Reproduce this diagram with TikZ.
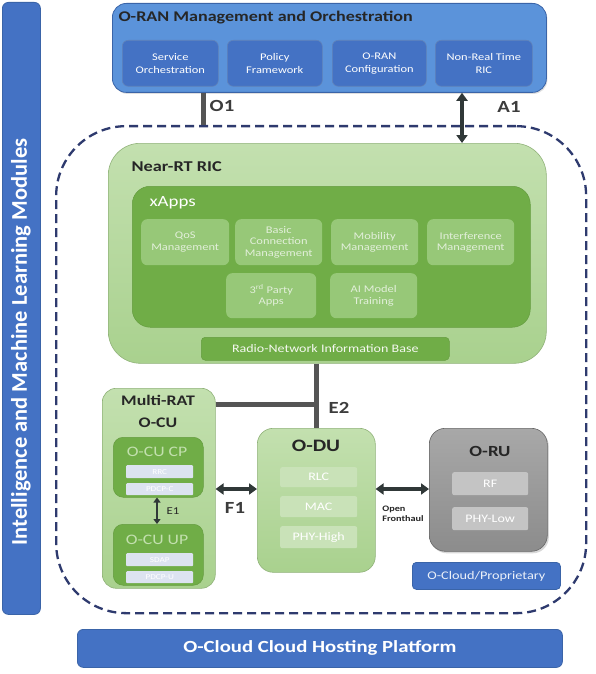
\documentclass[tikz,border=0pt]{standalone}
\usepackage{fontspec}
\setmainfont{Carlito}[FakeStretch=1.22]
\newfontfamily\vfont{Carlito}
\usetikzlibrary{arrows.meta,calc,shadows}
\definecolor{bluedark}{HTML}{4472C4}
\definecolor{bluemid}{HTML}{5B93DA}
\definecolor{blueedge}{HTML}{3A64A8}
\definecolor{greenlight}{HTML}{A9D18E}
\definecolor{greentop}{HTML}{C3E0AF}
\definecolor{greendark}{HTML}{70AD47}
\definecolor{greenapp}{HTML}{97C878}
\definecolor{greenbar}{HTML}{C9E2B8}
\definecolor{navy}{HTML}{2E3A6E}
\definecolor{linegray}{HTML}{555555}
\definecolor{arrowdark}{HTML}{303838}
\definecolor{grayru}{HTML}{8C8C8C}
\definecolor{grayrutop}{HTML}{A8A8A8}
\definecolor{graybar}{HTML}{C4C4C4}
\definecolor{cpbar}{HTML}{DCE3F0}
\definecolor{titledark}{HTML}{262626}
\begin{document}
\begin{tikzpicture}[x=1pt,y=-1pt,
  box/.style={draw,rounded corners=#1,inner sep=0pt,anchor=north west},
  box/.default=8pt,
  bluebox/.style={box=6pt,fill=bluedark,draw=blueedge,line width=0.8pt},
  mobox/.style={box=6pt,fill=bluedark,draw=blueedge!80,line width=0.6pt},
  motext/.style={text=white,align=center,font=\fontsize{10.2}{13}\selectfont},
  lgbox/.style={box=#1,top color=greentop,bottom color=greenlight,draw=greenlight!85!black,line width=0.6pt},
  dgbox/.style={box=#1,fill=greendark,draw=greendark!90!black,line width=0.5pt},
  appbox/.style={box=6pt,fill=greenapp,draw=none},
  apptext/.style={text=white!80!greendark,font=\fontsize{10.2}{11.5}\selectfont,align=center},
  bartext/.style={text=white,font=\fontsize{11.5}{12}\selectfont},
  smallbar/.style={text=white,font=\fontsize{7.5}{9}\selectfont},
  ttl/.style={font=\bfseries\fontsize{15}{18}\selectfont,text=titledark},
  iface/.style={font=\bfseries\fontsize{17}{19}\selectfont,text=titledark!90!white},
  dbl/.style={{Triangle[width=11pt,length=8pt]}-{Triangle[width=11pt,length=8pt]},line width=3.5pt,draw=arrowdark},
  plainline/.style={line width=5pt,draw=linegray}]
\useasboundingbox (0,0) rectangle (596,674);
\fill[white] (0,0) rectangle (596,674);

% left bar
\node[bluebox,minimum width=38pt,minimum height=612pt] (ml) at (2,2) {};
\node[rotate=90,text=white,font=\vfont\bfseries\fontsize{22.5}{25}\selectfont] (mltext) at (21,342) {Intelligence and Machine Learning Modules};

% bottom platform
\node[bluebox,minimum width=485pt,minimum height=38pt] (plat) at (77,629) {};
\node[text=white,font=\bfseries\fontsize{17}{20}\selectfont] (plattext) at (plat.center) {O-Cloud Cloud Hosting Platform};

% dashed cloud region
\node[draw=navy,line width=2.3pt,dash pattern=on 9pt off 5pt,rounded corners=70pt,minimum width=530pt,minimum height=487pt,anchor=north west,inner sep=0pt] (cloud) at (55,125) {};

% management & orchestration
\node[box=14pt,fill=bluemid,draw=blueedge,line width=0.8pt,minimum width=434pt,minimum height=89pt,drop shadow={opacity=0.25,shadow xshift=1pt,shadow yshift=-1.5pt}] (mo) at (112,3) {};
\node[ttl,anchor=west,font=\bfseries\fontsize{14.8}{18}\selectfont] (motitle) at (115,18) {O-RAN Management and Orchestration};
\node[mobox,minimum width=96pt,minimum height=46pt] (so) at (122,40) {};
\node[motext] at (so.center) {Service\\Orchestration};
\node[mobox,minimum width=95pt,minimum height=46pt] (pf) at (227,40) {};
\node[motext] at (pf.center) {Policy\\Framework};
\node[mobox,minimum width=94pt,minimum height=46pt] (oc) at (332,40) {};
\node[motext] at (oc.center) {O-RAN\\Configuration};
\node[mobox,minimum width=97pt,minimum height=46pt] (nrt) at (435,40) {};
\node[motext] at (nrt.center) {Non-Real Time\\RIC};

% Near-RT RIC
\node[lgbox=32pt,minimum width=438pt,minimum height=220pt] (ric) at (108,143) {};
\node[ttl,anchor=west] (rictitle) at (128,167) {Near-RT RIC};
\node[dgbox=18pt,minimum width=398pt,minimum height=141pt] (xapps) at (132,186) {};
\node[anchor=west,text=white,font=\fontsize{15.5}{18}\selectfont] (xappstitle) at (146,203) {xApps};
\node[appbox,minimum width=88pt,minimum height=46pt] (qos) at (141,219) {};
\node[apptext] at (qos.center) {QoS\\Management};
\node[appbox,minimum width=87pt,minimum height=46pt] (bcm) at (235,219) {};
\node[apptext] at (bcm.center) {Basic\\Connection\\Management};
\node[appbox,minimum width=87pt,minimum height=46pt] (mob) at (331,219) {};
\node[apptext] at (mob.center) {Mobility\\Management};
\node[appbox,minimum width=87pt,minimum height=46pt] (intf) at (427,219) {};
\node[apptext] at (intf.center) {Interference\\Management};
\node[appbox,minimum width=90pt,minimum height=45pt] (tpa) at (226,273) {};
\node[apptext] at (tpa.center) {3\textsuperscript{rd} Party\\Apps};
\node[appbox,minimum width=87pt,minimum height=45pt] (aim) at (330,273) {};
\node[apptext] at (aim.center) {AI Model\\Training};
\node[dgbox=4pt,minimum width=248pt,minimum height=23pt] (rnib) at (201,337) {};
\node[text=white!92!greendark,font=\fontsize{11.5}{14}\selectfont] at (rnib.center) {Radio-Network Information Base};

% O-CU
\node[lgbox=14pt,minimum width=113pt,minimum height=200pt] (ocu) at (102,388) {};
\node[ttl,align=center,font=\bfseries\fontsize{14.6}{22}\selectfont] (ocutitle) at (158,411) {Multi-RAT\\O-CU};
\node[dgbox=10pt,minimum width=90pt,minimum height=60pt] (cp) at (113,437) {};
\node[text=greentop,font=\fontsize{14.5}{15}\selectfont] (cptitle) at (157,452) {O-CU CP};
\node[box=1pt,fill=cpbar,draw=none,minimum width=67pt,minimum height=13pt] (rrc) at (126,465) {};
\node[smallbar] at (rrc.center) {RRC};
\node[box=1pt,fill=cpbar,draw=none,minimum width=67pt,minimum height=12pt] (pdcpc) at (126,483) {};
\node[smallbar] at (pdcpc.center) {PDCP-C};
\node[dgbox=10pt,minimum width=90pt,minimum height=61pt] (up) at (113,524) {};
\node[text=greentop,font=\fontsize{14.5}{15}\selectfont] (uptitle) at (157,540) {O-CU UP};
\node[box=1pt,fill=cpbar,draw=none,minimum width=67pt,minimum height=13pt] (sdap) at (126,553) {};
\node[smallbar] at (sdap.center) {SDAP};
\node[box=1pt,fill=cpbar,draw=none,minimum width=67pt,minimum height=12pt] (pdcpu) at (126,571) {};
\node[smallbar] at (pdcpu.center) {PDCP-U};

% O-DU
\node[lgbox=16pt,minimum width=118pt,minimum height=144pt] (odu) at (257,428) {};
\node[ttl,font=\bfseries\fontsize{17.5}{18}\selectfont] (odutitle) at (316,446) {O-DU};
\node[box=2pt,fill=greenbar,draw=none,minimum width=77pt,minimum height=20pt] (rlc) at (280,467) {};
\node[bartext] at (rlc.center) {RLC};
\node[box=2pt,fill=greenbar,draw=none,minimum width=77pt,minimum height=21pt] (mac) at (280,496) {};
\node[bartext] at (mac.center) {MAC};
\node[box=2pt,fill=greenbar,draw=none,minimum width=77pt,minimum height=22pt] (phyh) at (280,526) {};
\node[bartext] at (phyh.center) {PHY-High};

% O-RU
\node[box=16pt,top color=grayrutop,bottom color=grayru,draw=gray!80!black,line width=0.6pt,minimum width=118pt,minimum height=123pt,drop shadow={opacity=0.3,shadow xshift=1.5pt,shadow yshift=-2pt}] (oru) at (429,428) {};
\node[ttl,font=\bfseries\fontsize{15.5}{18}\selectfont] (orutitle) at (490,451) {O-RU};
\node[box=2pt,fill=graybar,draw=none,minimum width=76pt,minimum height=23pt] (rf) at (452,472) {};
\node[bartext] at (rf.center) {RF};
\node[box=2pt,fill=graybar,draw=none,minimum width=76pt,minimum height=23pt] (phyl) at (452,507) {};
\node[bartext] at (phyl.center) {PHY-Low};

% O-Cloud / Proprietary
\node[bluebox,rounded corners=4pt,minimum width=148pt,minimum height=27pt] (ocp) at (412,562) {};
\node[text=white!90!bluedark,font=\fontsize{11.7}{14}\selectfont] at (ocp.center) {O-Cloud/Proprietary};

% interfaces
\coordinate (o1x) at (203,0);
\coordinate (a1x) at (462,0);
\coordinate (e1x) at (157,0);
\coordinate (e2j) at (316,404);
\draw[plainline] (mo.south -| o1x) -- (cloud.north -| o1x);
\node[iface] (o1) at (222,106) {O1};
\draw[dbl] (mo.south -| a1x) -- (ric.north -| a1x);
\node[iface] (a1) at (509,107) {A1};
\draw[plainline] (ric.south -| odu.north) -- (odu.north);
\draw[plainline] (ocu.east |- e2j) -- (e2j);
\node[iface] (e2) at (339,408) {E2};
\draw[dbl] (ocu.east |- 0,489) -- (odu.west |- 0,489);
\node[iface] (f1) at (235,508) {F1};
\draw[dbl,line width=2.2pt,{Triangle[width=7pt,length=5pt]}-{Triangle[width=7pt,length=5pt]}] (cp.south -| e1x) -- (up.north -| e1x);
\node[font=\fontsize{10.5}{12}\selectfont,text=titledark] (e1) at (173,511) {E1};
\draw[dbl] (odu.east |- 0,489) -- (oru.west |- 0,489);
\node[font=\bfseries\fontsize{8.4}{10.5}\selectfont,align=left,text=titledark] (ofh) at (403,514) {Open\\Fronthaul};
\end{tikzpicture}
\end{document}
